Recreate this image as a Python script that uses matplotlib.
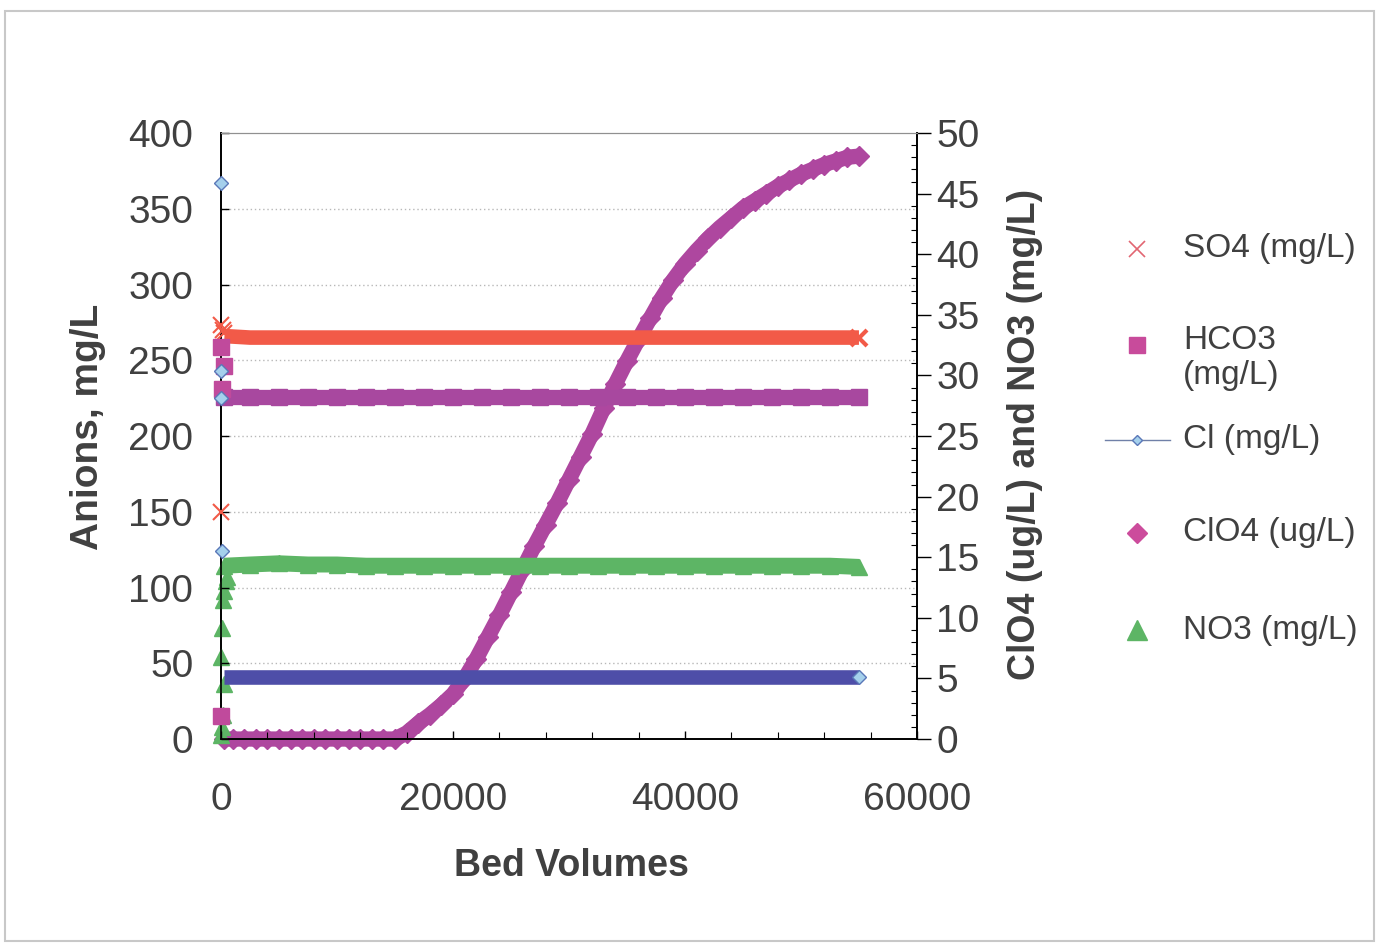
import matplotlib
matplotlib.use('Agg')
import matplotlib.pyplot as plt
from matplotlib.lines import Line2D
from matplotlib.patches import Rectangle
from matplotlib.ticker import MultipleLocator

plt.rcParams['font.family'] = ['Liberation Sans', 'DejaVu Sans']

# start-up samples (first few hundred bed volumes)
so4_start_bv = [0, 0, 150, 300]
so4_start = [150, 273, 270, 268]
hco3_start_bv = [0, 0, 250, 100]
hco3_start = [15, 259, 246, 231]
cl_start_bv = [0, 0, 0, 100]
cl_start = [367, 243, 225, 124]
no3_start_bv = [0, 100, 200, 300, 0, 100, 200, 300, 400, 500]
no3_start = [0.3, 1.0, 2.0, 4.5, 6.8, 9.2, 11.5, 12.2, 13.0, 13.4]

# steady run, major anions (mg/L) and nitrate
band_bv = [300, 2500, 5000, 7500, 10000, 12500, 15000, 17500, 20000, 22500, 25000, 27500,
           30000, 32500, 35000, 37500, 40000, 42500, 45000, 47500, 50000, 52500, 55000]
so4 = [266, 265, 265, 265, 265, 265, 265, 265, 265, 265, 265, 265,
       265, 265, 265, 265, 265, 265, 265, 265, 265, 265, 265]
hco3 = [226, 226, 226, 226, 226, 226, 226, 226, 226, 226, 226, 226,
        226, 226, 226, 226, 226, 226, 226, 226, 226, 226, 226]
cl = [41, 41, 41, 41, 41, 41, 41, 41, 41, 41, 41, 41,
      41, 41, 41, 41, 41, 41, 41, 41, 41, 41, 41]
no3 = [14.3, 14.4, 14.5, 14.4, 14.4, 14.3, 14.3, 14.3, 14.3, 14.3, 14.3, 14.3,
       14.3, 14.3, 14.3, 14.3, 14.3, 14.3, 14.3, 14.3, 14.3, 14.3, 14.2]

# perchlorate breakthrough (ug/L)
bv = [300, 1000, 2000, 3000, 4000, 5000, 6000, 7000, 8000, 9000, 10000, 11000, 12000, 13000,
      14000, 15000, 16000, 17000, 18000, 19000, 20000, 21000, 22000, 23000, 24000, 25000,
      26000, 27000, 28000, 29000, 30000, 31000, 32000, 33000, 34000, 35000, 36000, 37000,
      38000, 39000, 40000, 41000, 42000, 43000, 44000, 45000, 46000, 47000, 48000, 49000,
      50000, 51000, 52000, 53000, 54000, 55000]
clo4 = [0, 0, 0, 0, 0, 0, 0, 0, 0, 0, 0, 0, 0, 0,
        0, 0, 0.5, 1.3, 2.0, 2.8, 3.7, 5.0, 6.6, 8.4, 10.2, 12.1,
        14.0, 15.9, 17.7, 19.5, 21.4, 23.3, 25.2, 27.3, 29.3, 31.2, 33.0, 34.7,
        36.4, 37.9, 39.2, 40.3, 41.3, 42.2, 43.0, 43.8, 44.4, 45.0, 45.6, 46.1,
        46.6, 47.0, 47.4, 47.7, 48.0, 48.1]

left_ticks = [0, 50, 100, 150, 200, 250, 300, 350, 400]
right_ticks = [0, 5, 10, 15, 20, 25, 30, 35, 40, 45, 50]
x_ticks = [0, 20000, 40000, 60000]

c_so4 = '#F25A48'
c_hco3 = '#A8489F'
c_clo4 = '#AE479F'
c_cl = '#4E4EA8'
c_cl_face = '#A5D0EC'
c_no3 = '#5DB565'
txt = '#404040'

fig = plt.figure(figsize=(13.77, 9.43), dpi=100)
ax = fig.add_axes([0.1605, 0.2163, 0.5054, 0.6426])
ax2 = ax.twinx()
# left-axis series sit on top of the right-axis ones
ax.set_zorder(ax2.get_zorder() + 1)
ax.patch.set_visible(False)

# dotted grid at the left-axis ticks, drawn in the back axes
for t in left_ticks[1:-1]:
    ax2.axhline(t * 50 / 400, color='#B8B8B8', lw=1.0, ls=(0, (1, 2)), zorder=0)

# right axis: perchlorate and nitrate
ax2.plot(bv, clo4, color=c_clo4, lw=11, marker='D', ms=10, mec=c_clo4, mfc=c_clo4,
         solid_capstyle='butt', solid_joinstyle='round', clip_on=False, zorder=2)
ax2.plot(band_bv, no3, color=c_no3, lw=11.5, marker='^', ms=11, mec=c_no3, mfc=c_no3,
         solid_capstyle='butt', clip_on=False, zorder=3)
ax2.plot(no3_start_bv, no3_start, ls='none', marker='^', ms=12, color=c_no3, clip_on=False, zorder=3)

# left axis: SO4, HCO3, Cl
ax.plot(band_bv, so4, color=c_so4, lw=10.5, solid_capstyle='butt', clip_on=False, zorder=2)
ax.plot(band_bv[-1:], so4[-1:], ls='none', marker='x', ms=11, mew=3, color=c_so4, clip_on=False, zorder=2)
ax.plot(so4_start_bv, so4_start, ls='none', marker='x', ms=11, mew=1.5, color=c_so4, clip_on=False, zorder=3)

ax.plot(band_bv, hco3, color=c_hco3, lw=11, marker='s', ms=11, mec=c_hco3, mfc=c_hco3,
        solid_capstyle='butt', clip_on=False, zorder=2)
ax.plot(hco3_start_bv, hco3_start, ls='none', marker='s', ms=11, color='#C04A9C', clip_on=False, zorder=3)

ax.plot(band_bv, cl, color=c_cl, lw=10.5, solid_capstyle='butt', clip_on=False, zorder=2)
ax.plot(band_bv[-1:], cl[-1:], ls='none', marker='D', ms=7, mfc=c_cl_face, mec='#5A78B8', mew=1,
        clip_on=False, zorder=3)
ax.plot(cl_start_bv, cl_start, ls='none', marker='D', ms=7, mfc=c_cl_face, mec='#5A78B8', mew=1,
        clip_on=False, zorder=4)

# axes, ticks and labels
ax.set_xlim(0, 60000)
ax.set_ylim(0, 400)
ax2.set_ylim(0, 50)
ax.set_xticks(x_ticks)
ax.set_yticks(left_ticks)
ax2.set_yticks(right_ticks)
ax.xaxis.set_minor_locator(MultipleLocator(4000))
ax2.yaxis.set_minor_locator(MultipleLocator(1))

ax.tick_params(axis='x', which='major', direction='in', length=6, width=1, pad=31,
               labelsize=28, labelcolor=txt)
ax.tick_params(axis='x', which='minor', direction='in', length=5, width=0.8)
ax.tick_params(axis='y', which='major', direction='in', length=6, width=1, pad=20,
               labelsize=28, labelcolor=txt)
ax2.tick_params(axis='y', which='major', direction='out', length=10, width=1, pad=4,
                labelsize=28, labelcolor=txt)
ax2.tick_params(axis='y', which='minor', direction='in', length=4, width=0.8)

for a in (ax, ax2):
    a.spines['top'].set_color('#909090')
    a.spines['left'].set_linewidth(1.2)
    a.spines['bottom'].set_linewidth(1.2)
    a.spines['right'].set_linewidth(1.2)

ax.set_xlabel('Bed Volumes', fontsize=27, fontweight='bold', color=txt)
ax.xaxis.set_label_coords(0.503, -0.18)
ax.set_ylabel('Anions, mg/L', fontsize=28, fontweight='bold', color=txt)
ax.yaxis.set_label_coords(-0.165, 0.515)
ax2.set_ylabel('ClO4 (ug/L) and NO3 (mg/L)', fontsize=27, fontweight='bold', color=txt)
ax2.yaxis.set_label_coords(1.13, 0.503)

# legend, laid out by hand like the original
W, H = 1377, 943
mx, tx = 1137 / W, 1183 / W
entries = [
    ('SO4 (mg/L)', 249, dict(marker='x', ms=11, mew=1.2, color='#E26672', ls='none')),
    ('HCO3\n(mg/L)', 345, dict(marker='s', ms=12, color='#C84B9B', ls='none')),
    ('ClO4 (ug/L)', 533, dict(marker='D', ms=10.5, color='#CC4C9C', ls='none')),
    ('NO3 (mg/L)', 630, dict(marker='^', ms=14, color=c_no3, ls='none')),
]
for label, y, style in entries:
    fy = 1 - y / H
    fig.add_artist(Line2D([mx], [fy], transform=fig.transFigure, **style))
    if '\n' in label:
        fig.text(tx, fy + 20 / H, label, fontsize=24, color=txt, va='top', ha='left', linespacing=1.15)
    else:
        fig.text(tx, fy, label, fontsize=24, color=txt, va='center', ha='left')
fy = 1 - 440 / H
fig.add_artist(Line2D([1105 / W, 1170 / W], [fy, fy], transform=fig.transFigure, color='#7080A8', lw=1))
fig.add_artist(Line2D([mx], [fy], transform=fig.transFigure, marker='D', ms=5.5,
                      mfc=c_cl_face, mec='#5A78B8', mew=1, ls='none'))
fig.text(tx, fy, 'Cl (mg/L)', fontsize=24, color=txt, va='center', ha='left')

# outer frame of the chart
fig.add_artist(Rectangle((5 / W, 2 / H), 1 - 8 / W, 1 - 13 / H, transform=fig.transFigure,
                         fill=False, ec='#C8C8C8', lw=1.5))

fig.savefig('out.png', dpi=100)
